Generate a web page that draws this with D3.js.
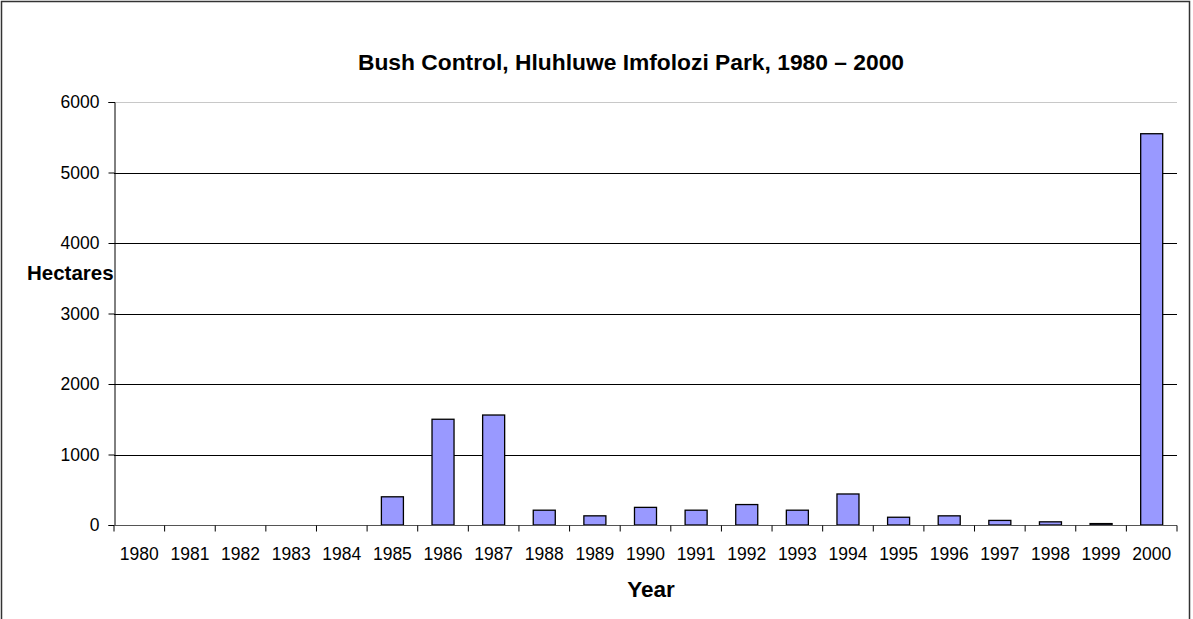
<!DOCTYPE html>
<html>
<head>
<meta charset="utf-8">
<script src="https://cdn.jsdelivr.net/npm/d3@7"></script>
<style>
  html, body { margin: 0; padding: 0; background: #fff; }
  svg { display: block; font-family: "Liberation Sans", Arial, sans-serif; }
</style>
</head>
<body>
<svg id="chart" width="1193" height="619"></svg>
<script>
// Hectares of bush cleared per year
const years = ["1980","1981","1982","1983","1984","1985","1986","1987","1988","1989","1990",
               "1991","1992","1993","1994","1995","1996","1997","1998","1999","2000"];
const hectares = [0, 0, 0, 0, 0, 400, 1500, 1560, 210, 130, 250,
                  210, 290, 210, 440, 110, 130, 65, 45, 20, 5550];
const yTicks = [0, 1000, 2000, 3000, 4000, 5000, 6000];

const titleText = "Bush Control, Hluhluwe Imfolozi Park, 1980 \u2013 2000";
const xTitle = "Year";
const yTitle = "Hectares";

const svg = d3.select("#chart");
const W = 1193, H = 619;
const plot = { left: 114, right: 1177, top: 102, bottom: 525 };

// outer frame
svg.append("rect")
  .attr("x", 1.5).attr("y", 1.5)
  .attr("width", 1188).attr("height", H + 10)
  .attr("fill", "none").attr("stroke", "#333").attr("stroke-width", 1.5);

const x = d3.scaleBand().domain(years).range([plot.left, plot.right]).paddingInner(0.565).paddingOuter(0.2825);
const y = d3.scaleLinear().domain([0, 6000]).range([plot.bottom, plot.top]);

// gridlines
svg.append("g").selectAll("line")
  .data(yTicks.filter(d => d > 0))
  .join("line")
  .attr("x1", plot.left).attr("x2", plot.right)
  .attr("y1", d => Math.round(y(d)) + 0.5).attr("y2", d => Math.round(y(d)) + 0.5)
  .attr("stroke", d => d === 6000 ? "#c8c8c8" : "#000")
  .attr("stroke-width", 1);

// bars
svg.append("g").selectAll("rect")
  .data(years.map((yr, i) => ({ yr, v: hectares[i] })).filter(d => d.v > 0))
  .join("rect")
  .attr("x", d => x(d.yr))
  .attr("width", x.bandwidth())
  .attr("y", d => y(d.v))
  .attr("height", d => y(0) - y(d.v))
  .attr("fill", "#9999ff")
  .attr("stroke", "#000")
  .attr("stroke-width", 1.3);

// y axis
const yAxis = svg.append("g")
  .attr("transform", `translate(${plot.left + 0.5},0)`)
  .call(d3.axisLeft(y).tickValues(yTicks).tickSize(6).tickPadding(9).tickFormat(d3.format("d")));
yAxis.select(".domain").attr("stroke", "#000");
yAxis.selectAll(".tick line").attr("stroke", "#000");
yAxis.selectAll("text").attr("font-size", 17.5).attr("fill", "#000")
  .attr("font-family", "Liberation Sans, Arial, sans-serif");

// x axis with ticks at category boundaries
const xAxisG = svg.append("g").attr("transform", `translate(0,${plot.bottom + 0.5})`);
xAxisG.append("line")
  .attr("x1", plot.left).attr("x2", plot.right)
  .attr("stroke", "#555").attr("stroke-width", 1.2);
const step = x.step();
xAxisG.selectAll("line.tk")
  .data(d3.range(years.length + 1))
  .join("line").attr("class", "tk")
  .attr("x1", i => plot.left + i * step).attr("x2", i => plot.left + i * step)
  .attr("y1", 0).attr("y2", 6)
  .attr("stroke", "#000");
xAxisG.selectAll("text")
  .data(years)
  .join("text")
  .attr("x", d => x(d) + x.bandwidth() / 2)
  .attr("y", 34)
  .attr("text-anchor", "middle")
  .attr("font-size", 17.5)
  .attr("fill", "#000")
  .text(d => d);

// titles
svg.append("text")
  .attr("x", 631).attr("y", 70)
  .attr("text-anchor", "middle")
  .attr("font-size", 22.8).attr("font-weight", "bold")
  .text(titleText);

svg.append("text")
  .attr("x", 651).attr("y", 597)
  .attr("text-anchor", "middle")
  .attr("font-size", 22.5).attr("font-weight", "bold")
  .text(xTitle);

svg.append("text")
  .attr("x", 27).attr("y", 280)
  .attr("text-anchor", "start")
  .attr("font-size", 20.5).attr("font-weight", "bold")
  .text(yTitle);
</script>
</body>
</html>
